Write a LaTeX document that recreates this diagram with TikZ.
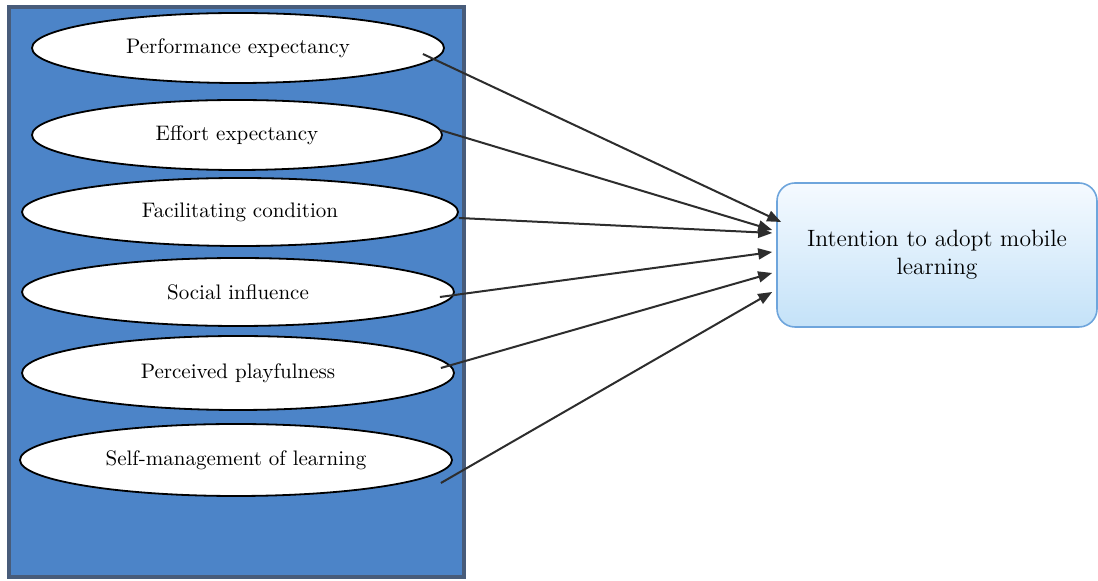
\documentclass[tikz,border=0pt]{standalone}
\usetikzlibrary{shapes.geometric,arrows.meta,calc}
\definecolor{panelblue}{RGB}{76,132,200}
\definecolor{paneledge}{RGB}{72,92,122}
\definecolor{boxedge}{RGB}{110,165,220}
\definecolor{boxtop}{RGB}{245,250,255}
\definecolor{boxbot}{RGB}{196,226,248}
\definecolor{linkgray}{RGB}{45,45,45}
\begin{document}
\begin{tikzpicture}[x=0.5pt,y=-0.5pt,
  factor/.style={ellipse,draw=black,line width=0.9pt,fill=white,
    minimum width=206pt,minimum height=35pt,inner sep=0pt,font=\fontsize{10.5}{12}\selectfont},
  outcome/.style={rectangle,rounded corners=9pt,draw=boxedge,line width=0.8pt,
    top color=boxtop,bottom color=boxbot,minimum width=160pt,minimum height=72pt,
    align=center,font=\fontsize{11.8}{14}\selectfont},
  link/.style={draw=linkgray,line width=1pt,-{Triangle[length=7pt,width=5.5pt]}}]
\useasboundingbox (0,0) rectangle (1098,581);
% constructs panel
\draw[fill=panelblue,draw=paneledge,line width=2pt] (9,7) rectangle (464,577);
\node[factor,minimum width=206pt] (pe) at (238,48) {Performance expectancy};
\node[factor,minimum width=205pt] (ee) at (237,135) {Effort expectancy};
\node[factor,minimum width=218pt,minimum height=34pt] (fc) at (240,212) {Facilitating condition};
\node[factor,minimum width=216pt,minimum height=34pt] (si) at (238,292) {Social influence};
\node[factor,minimum width=216pt,minimum height=37pt] (pp) at (238,373) {Perceived playfulness};
\node[factor,minimum width=216pt,minimum height=36pt] (sm) at (236,460) {Self-management of learning};
% outcome
\node[outcome] (im) at (937,255) {Intention to adopt mobile\\learning};
% paths
\draw[link] ($(pe.east)+(-22,6)$) -- ($(im.west)+(5,-33)$);
\draw[link] ($(ee.east)+(-3,-5)$) -- ($(im.west)+(-4,-25)$);
\draw[link] ($(fc.east)+(0,6)$) -- ($(im.west)+(-4,-22)$);
\draw[link] ($(si.east)+(-15,5)$) -- ($(im.west)+(-4,-3)$);
\draw[link] ($(pp.east)+(-14,-5)$) -- ($(im.west)+(-4,18)$);
\draw[link] ($(sm.east)+(-12,23)$) -- ($(im.west)+(-4,37)$);
\end{tikzpicture}
\end{document}
